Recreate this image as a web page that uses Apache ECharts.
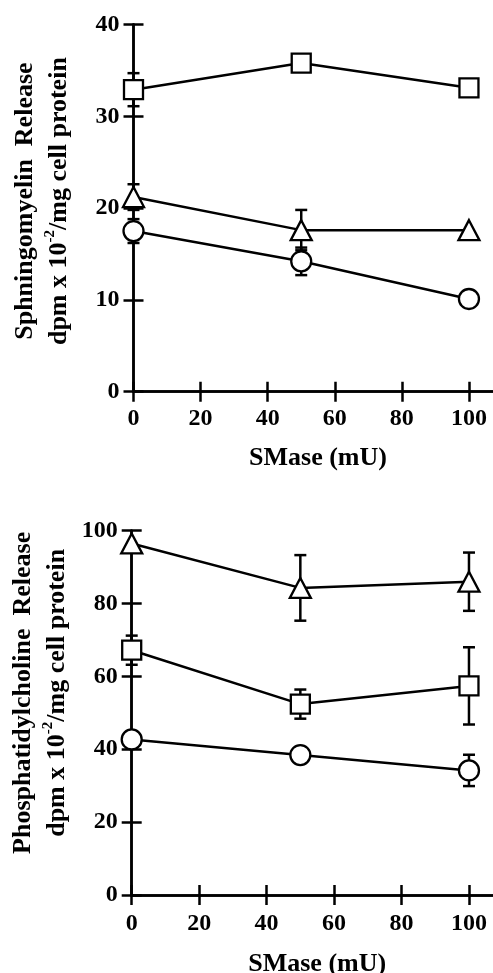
<!DOCTYPE html>
<html>
<head>
<meta charset="utf-8">
<script src="https://cdn.jsdelivr.net/npm/echarts@6/dist/echarts.min.js"></script>
<style>
  html, body { margin: 0; padding: 0; background: #fff; }
  #chart { width: 493px; height: 973px; }
</style>
</head>
<body>
<div id="chart"></div>
<script>
// ---- Data ----
const smaseDoses = [0, 50, 100];

// Top panel: Sphingomyelin release
const smSquare = [32.9, 35.8, 33.1];
const smSquareErr = [1.8, 0, 0];
const smTriangle = [21.2, 17.6, 17.6];
const smTriangleErr = [1.4, 2.2, 0];
const smCircle = [17.5, 14.2, 10.1];
const smCircleErr = [1.3, 1.5, 0];

// Bottom panel: Phosphatidylcholine release
const pcTriangle = [96.5, 84.3, 86.0];
const pcTriangleErr = [0, 9.0, 8.0];
const pcSquare = [67.2, 52.4, 57.4];
const pcSquareErr = [4.0, 4.0, 10.6];
const pcCircle = [42.7, 38.4, 34.2];
const pcCircleErr = [0, 0, 4.3];

const xTicks = [0, 20, 40, 60, 80, 100];
const smTicks = [0, 10, 20, 30, 40];
const pcTicks = [0, 20, 40, 60, 80, 100];

// ---- Helpers ----
const FONT = '"Liberation Serif", "Times New Roman", serif';
const BLACK = '#000';

function pairs(ys) { return smaseDoses.map((x, i) => [x, ys[i]]); }
function errRows(ys, errs) {
  const out = [];
  smaseDoses.forEach((x, i) => { if (errs[i] > 0) out.push([x, ys[i] - errs[i], ys[i] + errs[i]]); });
  return out;
}

function errorSeries(ys, errs, gi) {
  return {
    type: 'custom',
    xAxisIndex: gi * 2, yAxisIndex: gi * 2,
    z: 1,
    silent: true,
    data: errRows(ys, errs),
    renderItem: function (params, api) {
      const x = api.value(0), lo = api.value(1), hi = api.value(2);
      const p1 = api.coord([x, hi]);
      const p2 = api.coord([x, lo]);
      const w = 6;
      const st = { stroke: BLACK, lineWidth: 2.5 };
      return {
        type: 'group',
        children: [
          { type: 'line', shape: { x1: p1[0], y1: p1[1], x2: p2[0], y2: p2[1] }, style: st },
          { type: 'line', shape: { x1: p1[0] - w, y1: p1[1], x2: p1[0] + w, y2: p1[1] }, style: st },
          { type: 'line', shape: { x1: p2[0] - w, y1: p2[1], x2: p2[0] + w, y2: p2[1] }, style: st }
        ]
      };
    }
  };
}

function lineSeries(ys, symbol, size, gi) {
  return {
    type: 'line',
    xAxisIndex: gi * 2, yAxisIndex: gi * 2,
    z: 3,
    data: pairs(ys),
    symbol: symbol,
    symbolSize: size,
    showAllSymbol: true,
    lineStyle: { color: BLACK, width: 2.5 },
    itemStyle: { color: '#fff', borderColor: BLACK, borderWidth: 2.3 },
    emphasis: { disabled: true }
  };
}

const axisLine = { show: true, lineStyle: { color: BLACK, width: 2.5 } };
function tickIn(values) {
  const t = { show: true, inside: true, length: 10, lineStyle: { color: BLACK, width: 2.5 } };
  if (values) t.customValues = values;
  return t;
}

function xAxes(gi, labelMargin, nameGap) {
  return [
    {
      type: 'value', gridIndex: gi, position: 'bottom',
      min: 0, max: 110, interval: 20,
      axisLine: axisLine, axisTick: tickIn(xTicks), splitLine: { show: false },
      axisLabel: {
        customValues: xTicks,
        color: BLACK, fontFamily: FONT, fontWeight: 'bold', fontSize: 24, margin: labelMargin,
        formatter: v => (xTicks.indexOf(v) >= 0 ? String(v) : '')
      },
      name: 'SMase (mU)', nameLocation: 'middle', nameGap: nameGap, nameMoveOverlap: false,
      nameTextStyle: { color: BLACK, fontFamily: FONT, fontWeight: 'bold', fontSize: 26 }
    },
    {
      type: 'value', gridIndex: gi, position: 'top',
      min: 0, max: 110, interval: 20,
      axisLine: axisLine, axisTick: tickIn(xTicks), splitLine: { show: false },
      axisLabel: { show: false }
    }
  ];
}

function yAxes(gi, maxV, step, ticks, line1, shiftPad, gap) {
  return [
    {
      type: 'value', gridIndex: gi, position: 'left',
      min: 0, max: maxV, interval: step,
      axisLine: axisLine, axisTick: tickIn(), splitLine: { show: false },
      axisLabel: {
        color: BLACK, fontFamily: FONT, fontWeight: 'bold', fontSize: 24, margin: 14,
        formatter: v => (ticks.indexOf(v) >= 0 ? String(v) : '')
      },
      name: '{t|' + line1 + '}\n{t|dpm x 10}{s|-2}{t|/mg cell protein}',
      nameLocation: 'middle', nameRotate: 90, nameGap: gap, nameMoveOverlap: false,
      nameTextStyle: {
        color: BLACK, fontFamily: FONT, fontWeight: 'bold', fontSize: 26, lineHeight: 34,
        padding: [0, 0, 0, shiftPad],
        rich: {
          t: { color: BLACK, fontFamily: FONT, fontWeight: 'bold', fontSize: 26, lineHeight: 34 },
          s: { color: BLACK, fontFamily: FONT, fontWeight: 'bold', fontSize: 15, lineHeight: 20, verticalAlign: 'top' }
        }
      }
    },
    {
      type: 'value', gridIndex: gi, position: 'right',
      min: 0, max: maxV, interval: step,
      axisLine: axisLine, axisTick: tickIn(), splitLine: { show: false },
      axisLabel: { show: false }
    }
  ];
}

const chart = echarts.init(document.getElementById('chart'), null, { renderer: 'canvas' });
chart.setOption({
  animation: false,
  backgroundColor: '#fff',
  grid: [
    { left: 133.5, top: 24.5, height: 367.2, right: -9.5, containLabel: false, outerBoundsMode: 'none' },
    { left: 131.7, top: 530.7, height: 364.3, right: -9.7, containLabel: false, outerBoundsMode: 'none' }
  ],
  xAxis: [].concat(xAxes(0, 15, 54), xAxes(1, 17, 56)),
  yAxis: [].concat(
    yAxes(0, 40, 10, smTicks, 'Sphningomyelin  Release', 14, 57),
    yAxes(1, 100, 20, pcTicks, 'Phosphatidylcholine  Release', 40, 57)
  ),
  series: [
    errorSeries(smSquare, smSquareErr, 0),
    errorSeries(smTriangle, smTriangleErr, 0),
    errorSeries(smCircle, smCircleErr, 0),
    lineSeries(smSquare, 'rect', 19, 0),
    lineSeries(smTriangle, 'triangle', [21, 20], 0),
    lineSeries(smCircle, 'circle', 20, 0),

    errorSeries(pcTriangle, pcTriangleErr, 1),
    errorSeries(pcSquare, pcSquareErr, 1),
    errorSeries(pcCircle, pcCircleErr, 1),
    lineSeries(pcTriangle, 'triangle', [21, 20], 1),
    lineSeries(pcSquare, 'rect', 19, 1),
    lineSeries(pcCircle, 'circle', 20, 1)
  ]
});
</script>
</body>
</html>
